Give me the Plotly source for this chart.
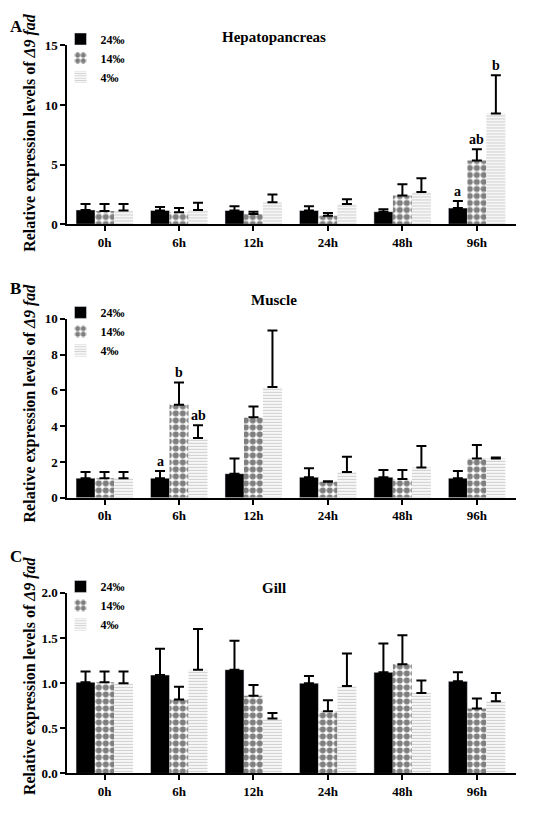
import plotly.graph_objects as go

# Tempos de amostragem e salinidades
times = ['0h', '6h', '12h', '24h', '48h', '96h']
salinities = ['24‰', '14‰', '4‰']

# Hepatopâncreas: média e topo da barra de erro
hep_24 = [1.2, 1.15, 1.15, 1.15, 1.05, 1.35]
hep_14 = [1.1, 1.0, 0.85, 0.7, 2.4, 5.35]
hep_4 = [1.15, 1.2, 1.85, 1.7, 2.7, 9.3]
hep_24_top = [1.7, 1.45, 1.5, 1.5, 1.25, 1.95]
hep_14_top = [1.7, 1.35, 1.05, 0.95, 3.35, 6.3]
hep_4_top = [1.7, 1.8, 2.5, 2.1, 3.85, 12.5]

# Músculo
mus_24 = [1.1, 1.1, 1.35, 1.15, 1.15, 1.1]
mus_14 = [1.1, 5.2, 4.5, 0.9, 1.05, 2.2]
mus_4 = [1.1, 3.35, 6.2, 1.45, 1.7, 2.2]
mus_24_top = [1.45, 1.5, 2.2, 1.65, 1.55, 1.5]
mus_14_top = [1.45, 6.45, 5.1, 0.92, 1.55, 2.95]
mus_4_top = [1.45, 4.05, 9.35, 2.3, 2.9, 2.25]

# Brânquia
gill_24 = [1.01, 1.09, 1.15, 1.0, 1.12, 1.02]
gill_14 = [1.01, 0.82, 0.86, 0.69, 1.21, 0.72]
gill_4 = [1.0, 1.15, 0.61, 0.97, 0.89, 0.8]
gill_24_top = [1.13, 1.38, 1.47, 1.08, 1.44, 1.12]
gill_14_top = [1.13, 0.96, 0.98, 0.81, 1.53, 0.83]
gill_4_top = [1.13, 1.6, 0.67, 1.33, 1.03, 0.89]

# Letras de significância (painel, tempo, salinidade, texto, topo)
sig_letters = [
    (0, '96h', 0, 'a', 1.95), (0, '96h', 1, 'ab', 6.3), (0, '96h', 2, 'b', 12.5),
    (1, '6h', 0, 'a', 1.5), (1, '6h', 1, 'b', 6.45), (1, '6h', 2, 'ab', 4.05),
]

W, H = 550, 817


# converte posição na imagem (px) para coordenada do papel
# (a página desloca a figura ~8px e a foto comprime um pouco a vertical)
def px_x(p):
    return (p - 8) / W


def px_y(p):
    return 1 - ((p - 15) / 0.983) / H


# posições em px: topo, base, título, letra, centro do título do eixo y
panels = [
    dict(title='Hepatopancreas', vals=[hep_24, hep_14, hep_4],
         tops=[hep_24_top, hep_14_top, hep_4_top], yr=[0, 15], dt=5,
         top=45.5, bot=224.5, tit=37.5, let='A', let_y=None, ytc=133),
    dict(title='Muscle', vals=[mus_24, mus_14, mus_4],
         tops=[mus_24_top, mus_14_top, mus_4_top], yr=[0, 10], dt=2,
         top=319.3, bot=498.5, tit=300, let='B', let_y=289, ytc=404),
    dict(title='Gill', vals=[gill_24, gill_14, gill_4],
         tops=[gill_24_top, gill_14_top, gill_4_top], yr=[0, 2], dt=0.5,
         top=593.7, bot=774.5, tit=589, let='C', let_y=557, ytc=677),
]

styles = [
    dict(color='black'),
    dict(color='white', line=dict(width=0),
         pattern=dict(shape='.', fgcolor='black', bgcolor='white', size=7, solidity=0.62)),
    dict(color='white', line=dict(width=0),
         pattern=dict(shape='-', fgcolor='#a0a0a0', bgcolor='white', size=3, solidity=0.45)),
]

FONT = 'Liberation Serif'
fig = go.Figure()
annotations = []
bar_px = 19

for i, pn in enumerate(panels):
    n = '' if i == 0 else str(i + 1)
    leg = 'legend' + n
    dom = [px_y(pn['bot']), px_y(pn['top'])]
    for j, sal in enumerate(salinities):
        fig.add_trace(go.Bar(
            x=times, y=pn['vals'][j], name=sal, xaxis='x' + n, yaxis='y' + n,
            marker=styles[j], legend=leg,
            error_y=dict(type='data', symmetric=False,
                         array=[t - v for t, v in zip(pn['tops'][j], pn['vals'][j])],
                         arrayminus=[0] * len(times),
                         color='black', thickness=2, width=5),
        ))
    ax = dict(anchor='y' + n, domain=[px_x(67.3), px_x(515.6)], range=[-0.5, 5.52],
              showline=True, linecolor='black', linewidth=2, ticks='outside',
              ticklen=5, tickwidth=2, tickcolor='black', showgrid=False,
              tickfont=dict(size=13, family=FONT, color='black'))
    ay = dict(anchor='x' + n, domain=dom, range=pn['yr'], dtick=pn['dt'],
              showline=True, linecolor='black', linewidth=2, ticks='outside',
              ticklen=5, tickwidth=2, tickcolor='black', showgrid=False,
              zeroline=False, tickfont=dict(size=13, family=FONT, color='black'),
              tickformat='.1f' if pn['dt'] < 1 else None)
    fig.update_layout({'xaxis' + n: ax, 'yaxis' + n: ay})
    fig.update_layout({leg: dict(x=px_x(60.5), y=px_y(pn['top'] - 21), xanchor='left',
                                 yanchor='top', bgcolor='rgba(0,0,0,0)', tracegroupgap=0,
                                 font=dict(size=12, family=FONT, color='black'))})
    annotations.append(dict(text='<b>' + pn['title'] + '</b>', xref='paper', yref='paper',
                            x=px_x(273.5), y=px_y(pn['tit']), xanchor='center',
                            yanchor='middle', showarrow=False,
                            font=dict(size=15, family=FONT, color='black')))
    if pn['let_y'] is None:
        let_pos = dict(y=1, yanchor='top')
    else:
        let_pos = dict(y=px_y(pn['let_y']), yanchor='middle')
    annotations.append(dict(text='<b>' + pn['let'] + '</b>', xref='paper', yref='paper',
                            x=0, xanchor='left', showarrow=False,
                            font=dict(size=17, family=FONT, color='black'), **let_pos))
    annotations.append(dict(text='<b>Relative expression levels of <i>Δ9 fad</i></b>',
                            xref='paper', yref='paper', x=px_x(30), y=px_y(pn['ytc']),
                            xanchor='center', yanchor='middle',
                            textangle=-90, showarrow=False,
                            font=dict(size=16, family=FONT, color='black')))

for p, t, s, txt, top in sig_letters:
    n = '' if p == 0 else str(p + 1)
    annotations.append(dict(text='<b>' + txt + '</b>', x=t, y=top, xref='x' + n, yref='y' + n,
                            xshift=(s - 1) * bar_px, yanchor='bottom', yshift=0,
                            showarrow=False, font=dict(size=14, family=FONT, color='black')))

fig.update_layout(
    width=W, height=H, margin=dict(l=0, r=0, t=0, b=0),
    barmode='group', bargap=0.235, bargroupgap=0,
    plot_bgcolor='white', paper_bgcolor='white',
    font=dict(family=FONT, color='black', weight='bold'),
    annotations=annotations,
)

fig.write_html('out.html')
